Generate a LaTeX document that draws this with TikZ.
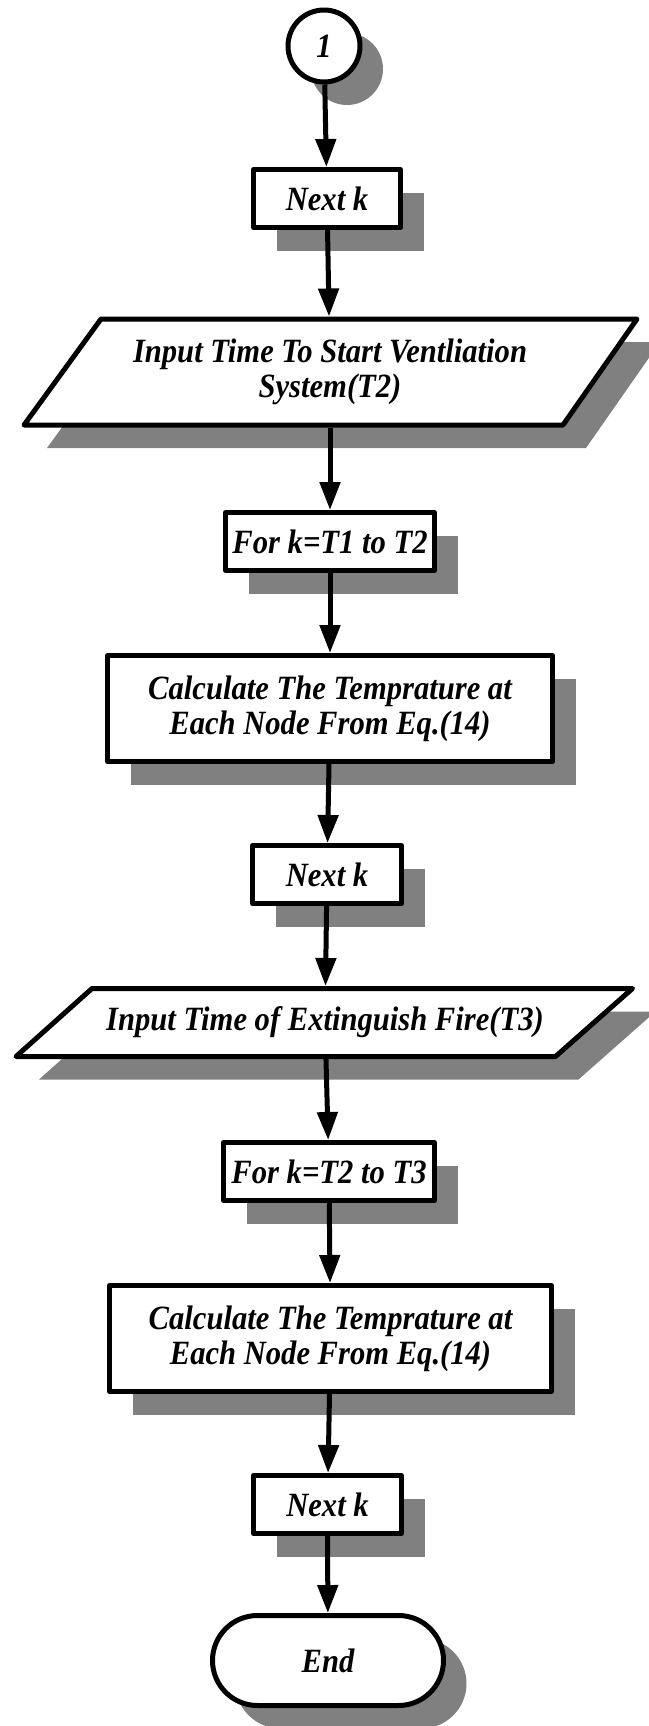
\documentclass[tikz,border=0pt]{standalone}
\usepackage{fontspec}
\setmainfont[FakeStretch=0.9]{Liberation Serif}
\usetikzlibrary{arrows.meta,shadows,shapes.misc,positioning}

\begin{document}
\begin{tikzpicture}[x=1pt,y=-1pt,
    line width=5pt, line join=round,
    every node/.style={font=\fontsize{34}{35}\selectfont\bfseries\itshape, align=center},
    box/.style={draw, fill=white, inner sep=0pt,
        drop shadow={shadow xshift=23pt, shadow yshift=-23pt, fill=gray, opacity=1}},
    iotext/.style={inner sep=0pt, outer sep=0pt},
    arr/.style={-{Triangle[width=20pt,length=28pt]}}]
\useasboundingbox (0,0) rectangle (648,1726);

% connector and loop boxes
\node[box, circle, minimum size=72pt] (con) at (324,46) {1};
\node[box, minimum width=147pt, minimum height=58pt] (nextA) at (327,198.5) {Next k};

% input of T2
\fill[gray, shift={(23,23)}] (101,319) -- (637,319) -- (563,425) -- (24,425) -- cycle;
\filldraw[fill=white] (101,319) -- (637,319) -- (563,425) -- (24,425) -- cycle;
\node[iotext, minimum width=300pt, minimum height=111pt] (inA) at (330,372)
    {Input Time To Start Ventliation\\System(T2)};

\node[box, minimum width=209pt, minimum height=58pt] (forA) at (330,541.5) {For k=T1 to T2};
\node[box, minimum width=445pt, minimum height=106pt] (calcA) at (330,708.5)
    {Calculate The Temprature at\\Each Node From Eq.(14)};
\node[box, minimum width=149pt, minimum height=58pt] (nextB) at (327,874.5) {Next k};

% input of T3
\fill[gray, shift={(23,23)}] (92,988.5) -- (632.5,988.5) -- (555.5,1056.5) -- (16,1056.5) -- cycle;
\filldraw[fill=white] (92,988.5) -- (632.5,988.5) -- (555.5,1056.5) -- (16,1056.5) -- cycle;
\node[iotext, minimum width=300pt, minimum height=73pt] (inB) at (325,1022.5)
    {Input Time of Extinguish Fire(T3)};

\node[box, minimum width=211pt, minimum height=58pt] (forB) at (329,1171.5) {For k=T2 to T3};
\node[box, minimum width=442pt, minimum height=106pt] (calcB) at (330.5,1338.5)
    {Calculate The Temprature at\\Each Node From Eq.(14)};
\node[box, minimum width=148pt, minimum height=58pt] (nextC) at (327.5,1504.5) {Next k};
\node[box, rounded rectangle, minimum width=231pt, minimum height=90pt] (stop) at (328,1660.5) {End};

% flow
\draw[arr] (con) -- (nextA);
\draw[arr] (nextA) -- (inA);
\draw[arr] (inA) -- (forA);
\draw[arr] (forA) -- (calcA);
\draw[arr] (calcA) -- (nextB);
\draw[arr] (nextB) -- (inB);
\draw[arr] (inB) -- (forB);
\draw[arr] (forB) -- (calcB);
\draw[arr] (calcB) -- (nextC);
\draw[arr] (nextC) -- (stop);
\end{tikzpicture}
\end{document}
